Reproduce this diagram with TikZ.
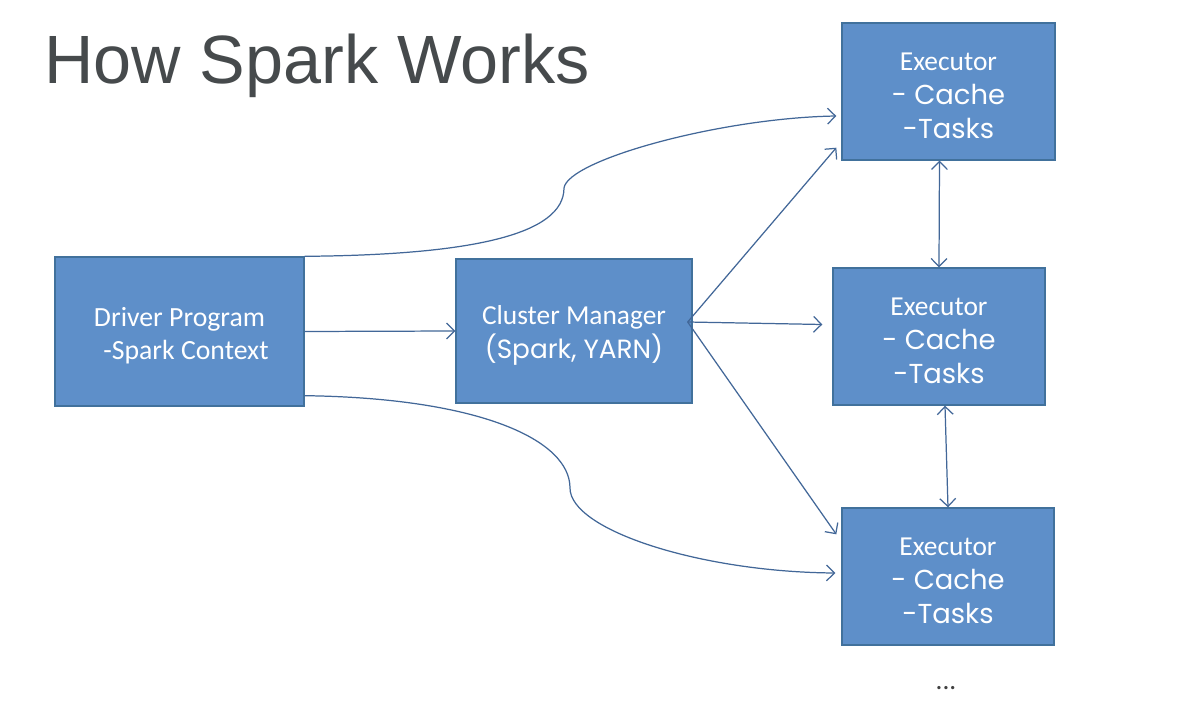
\documentclass[tikz,border=0pt]{standalone}
\usepackage{fontspec}
\setmainfont{Carlito}
\newfontfamily\titlefont{Liberation Sans}
\newfontfamily\gothic{Poppins}
\usetikzlibrary{arrows.meta,calc}
\definecolor{boxfill}{RGB}{94,143,201}
\definecolor{boxline}{RGB}{65,113,156}
\definecolor{arrowc}{RGB}{66,103,152}
\definecolor{titlec}{RGB}{70,74,76}
\begin{document}
\begin{tikzpicture}[x=0.02cm,y=-0.02cm,
  box/.style={draw=boxline,line width=0.8pt,fill=boxfill,inner sep=0pt},
  boxtext/.style={text=white,align=center,inner sep=0pt,yshift=-2.4pt},
  conn/.style={draw=arrowc,line width=0.7pt,-{Straight Barb[length=4.5pt,width=9pt]}},
  both/.style={draw=arrowc,line width=0.7pt,{Straight Barb[length=4.5pt,width=9pt]}-{Straight Barb[length=4.5pt,width=9pt]}}]
\useasboundingbox (0,0) rectangle (1178,706);
\fill[white] (0,0) rectangle (1178,706);

\node[anchor=base west,font=\titlefont\fontsize{38.9}{46}\selectfont,text=titlec,inner sep=0pt] (title) at (44,84) {How Spark Works};

\node[box,minimum width=4.98cm,minimum height=2.98cm,
  label={[boxtext,font=\fontsize{15.8}{18.5}\selectfont]center:{Driver Program\\\hspace*{0.26cm}-Spark Context}}] (drv) at (179.5,331.5) {};
\node[box,minimum width=4.72cm,minimum height=2.88cm,
  label={[boxtext,font=\fontsize{15.6}{19.5}\selectfont]center:{Cluster Manager\\{\gothic\fontsize{15}{19.5}\selectfont (Spark, YARN)}}}] (cm) at (574,331) {};
\node[box,minimum width=4.26cm,minimum height=2.74cm,
  label={[boxtext,font=\fontsize{15.6}{19.5}\selectfont]center:{Executor\\{\gothic - Cache}\\{\gothic -Tasks}}}] (ex1) at (948.5,91.5) {};
\node[box,minimum width=4.24cm,minimum height=2.74cm,
  label={[boxtext,font=\fontsize{15.6}{19.5}\selectfont]center:{Executor\\{\gothic - Cache}\\{\gothic -Tasks}}}] (ex2) at (939,336.5) {};
\node[box,minimum width=4.24cm,minimum height=2.74cm,
  label={[boxtext,font=\fontsize{15.6}{19.5}\selectfont]center:{Executor\\{\gothic - Cache}\\{\gothic -Tasks}}}] (ex3) at (948,576.5) {};
\node[font=\fontsize{15.5}{18}\selectfont,text=black!75] (dots) at (946,688) {...};

\coordinate (hub) at ($(cm.east)+(-5,-9)$);

\draw[conn] (drv.north east) .. controls (470,255) and (564,235) .. (564,188)
  .. controls (568,160) and (720,118) .. ($(ex1.west)+(-5,24.5)$);
\draw[conn] (drv.east) -- (cm.west);
\draw[conn] ($(drv.south east)+(0,-11)$) .. controls (480,398) and (570,440) .. (570,488)
  .. controls (570,530) and (700,572) .. ($(ex3.west)+(-6,-3.5)$);

\draw[conn] (hub) -- ($(ex1.south west)+(-5,-13)$);
\draw[conn] (hub) -- ($(ex2.west)+(-10,-12)$);
\draw[conn] (hub) -- ($(ex3.north west)+(-5,27)$);

\draw[both] ($(ex1.south)+(-9,0)$) -- (ex2.north);
\draw[both] ($(ex2.south)+(6,0)$) -- (ex3.north);
\end{tikzpicture}
\end{document}
